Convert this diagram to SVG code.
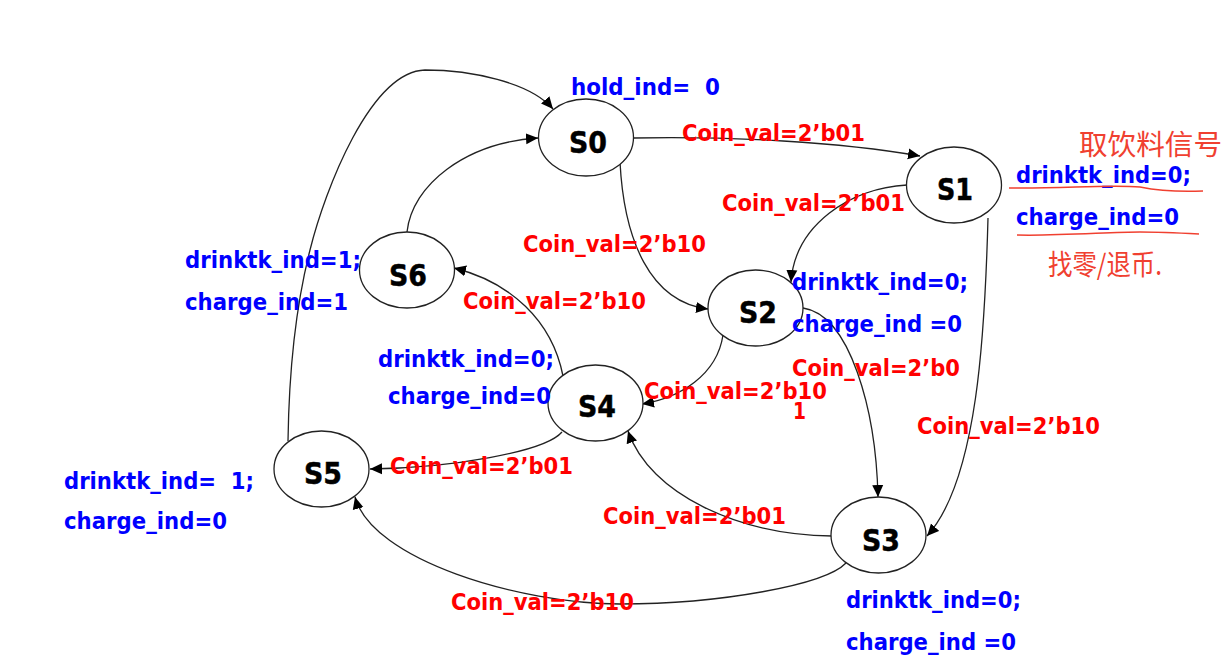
<svg xmlns="http://www.w3.org/2000/svg" width="1227" height="672" viewBox="0 0 1227 672">
<style>
text{font-family:"DejaVu Sans","Liberation Sans",sans-serif;font-weight:700}
.b{fill:#0000ff;font-size:23px}
.r{fill:#ff0000;font-size:23px}
.n{fill:#000;stroke:#000;stroke-width:0.5;font-size:31px}
.h{fill:#f04030;font-family:"Noto Sans CJK SC",sans-serif;font-weight:400;font-size:28px}
ellipse{fill:#fff;stroke:#222;stroke-width:1.3}
.c path{fill:none;stroke:#222;stroke-width:1.3;marker-end:url(#a)}
.u{fill:none;stroke:#f04030;stroke-width:1.5}
</style>
<defs><marker id="a" markerUnits="userSpaceOnUse" markerWidth="13" markerHeight="12" refX="12" refY="6" orient="auto"><path d="M0 0.500L12 6L0 11.500z" fill="#000" stroke="none"/></marker></defs>
<rect width="1227" height="672" fill="#fff"/>
<g id="connectors" class="c">
<path d="M288 441C289 370 296 305 310 250C325 190 370 72 425 70C470 70 530 82 553 109"/>
<path d="M407 232C412 185 465 143 538 138"/>
<path d="M634 138C730 136 840 142 920 156"/>
<path d="M620 162C624 240 650 302 708 309"/>
<path d="M907 185C850 188 795 225 791 282"/>
<path d="M988 218C985 330 978 480 927 536"/>
<path d="M803 308C850 315 876 410 878 497"/>
<path d="M723 335C717 375 680 398 642 404"/>
<path d="M563 376C552 320 510 282 454 268"/>
<path d="M562 432C545 452 450 468 370 469"/>
<path d="M832 536C740 535 650 495 628 431"/>
<path d="M846 563C825 585 720 604 620 604C520 604 372 560 355 497"/>
</g>
<g id="S0"><ellipse cx="586" cy="137.500" rx="47.500" ry="38.500"/><text class="n" x="569" y="153" textLength="38" lengthAdjust="spacingAndGlyphs">S0</text></g>
<g id="S1"><ellipse cx="954" cy="185" rx="47.500" ry="38"/><text class="n" x="937" y="200" textLength="36" lengthAdjust="spacingAndGlyphs">S1</text></g>
<g id="S2"><ellipse cx="755.500" cy="308" rx="47.500" ry="38"/><text class="n" x="739" y="323" textLength="38" lengthAdjust="spacingAndGlyphs">S2</text></g>
<g id="S3"><ellipse cx="878.500" cy="535" rx="47.500" ry="38"/><text class="n" x="862" y="551" textLength="38" lengthAdjust="spacingAndGlyphs">S3</text></g>
<g id="S4"><ellipse cx="595.500" cy="403" rx="47.500" ry="38"/><text class="n" x="578" y="417" textLength="38" lengthAdjust="spacingAndGlyphs">S4</text></g>
<g id="S5"><ellipse cx="321.500" cy="469" rx="47.500" ry="38"/><text class="n" x="304" y="484" textLength="38" lengthAdjust="spacingAndGlyphs">S5</text></g>
<g id="S6"><ellipse cx="407" cy="270" rx="47.500" ry="38"/><text class="n" x="389" y="286" textLength="38" lengthAdjust="spacingAndGlyphs">S6</text></g>
<g id="labels">
<text class="b" x="571" y="95" textLength="149" lengthAdjust="spacingAndGlyphs" xml:space="preserve">hold_ind=  0</text>
<text class="b" x="1016" y="183" textLength="175" lengthAdjust="spacingAndGlyphs">drinktk_ind=0;</text>
<text class="b" x="1016" y="225" textLength="163" lengthAdjust="spacingAndGlyphs">charge_ind=0</text>
<text class="b" x="792" y="290" textLength="176" lengthAdjust="spacingAndGlyphs">drinktk_ind=0;</text>
<text class="b" x="792" y="332" textLength="170" lengthAdjust="spacingAndGlyphs">charge_ind =0</text>
<text class="b" x="185" y="268" textLength="176" lengthAdjust="spacingAndGlyphs">drinktk_ind=1;</text>
<text class="b" x="185" y="310" textLength="163" lengthAdjust="spacingAndGlyphs">charge_ind=1</text>
<text class="b" x="378" y="367" textLength="176" lengthAdjust="spacingAndGlyphs">drinktk_ind=0;</text>
<text class="b" x="388" y="404" textLength="163" lengthAdjust="spacingAndGlyphs">charge_ind=0</text>
<text class="b" x="64" y="489" textLength="190" lengthAdjust="spacingAndGlyphs" xml:space="preserve">drinktk_ind=  1;</text>
<text class="b" x="64" y="529" textLength="163" lengthAdjust="spacingAndGlyphs">charge_ind=0</text>
<text class="b" x="846" y="608" textLength="175" lengthAdjust="spacingAndGlyphs">drinktk_ind=0;</text>
<text class="b" x="846" y="650" textLength="170" lengthAdjust="spacingAndGlyphs">charge_ind =0</text>
<text class="r" x="682" y="141" textLength="183" lengthAdjust="spacingAndGlyphs">Coin_val=2’b01</text>
<text class="r" x="722" y="211" textLength="183" lengthAdjust="spacingAndGlyphs">Coin_val=2’b01</text>
<text class="r" x="523" y="252" textLength="183" lengthAdjust="spacingAndGlyphs">Coin_val=2’b10</text>
<text class="r" x="463" y="309" textLength="183" lengthAdjust="spacingAndGlyphs">Coin_val=2’b10</text>
<text class="r" x="792" y="376" textLength="168" lengthAdjust="spacingAndGlyphs">Coin_val=2’b0</text>
<text class="r" x="644" y="399" textLength="183" lengthAdjust="spacingAndGlyphs">Coin_val=2’b10</text>
<text class="r" x="793" y="419" textLength="13" lengthAdjust="spacingAndGlyphs">1</text>
<text class="r" x="917" y="434" textLength="183" lengthAdjust="spacingAndGlyphs">Coin_val=2’b10</text>
<text class="r" x="390" y="474" textLength="183" lengthAdjust="spacingAndGlyphs">Coin_val=2’b01</text>
<text class="r" x="603" y="524" textLength="183" lengthAdjust="spacingAndGlyphs">Coin_val=2’b01</text>
<text class="r" x="451" y="610" textLength="183" lengthAdjust="spacingAndGlyphs">Coin_val=2’b10</text>
</g>
<g id="notes">
<text class="h" x="1079" y="155" textLength="143" lengthAdjust="spacingAndGlyphs">取饮料信号</text>
<text class="h" x="1048" y="275" textLength="114" lengthAdjust="spacingAndGlyphs">找零/退币.</text>
<path class="u" d="M1009 188C1060 189 1110 184 1140 187C1160 191 1180 192 1203 191"/>
<path class="u" d="M1017 235C1060 236 1110 232 1140 232C1160 232 1180 233 1199 234"/>
</g>
</svg>
